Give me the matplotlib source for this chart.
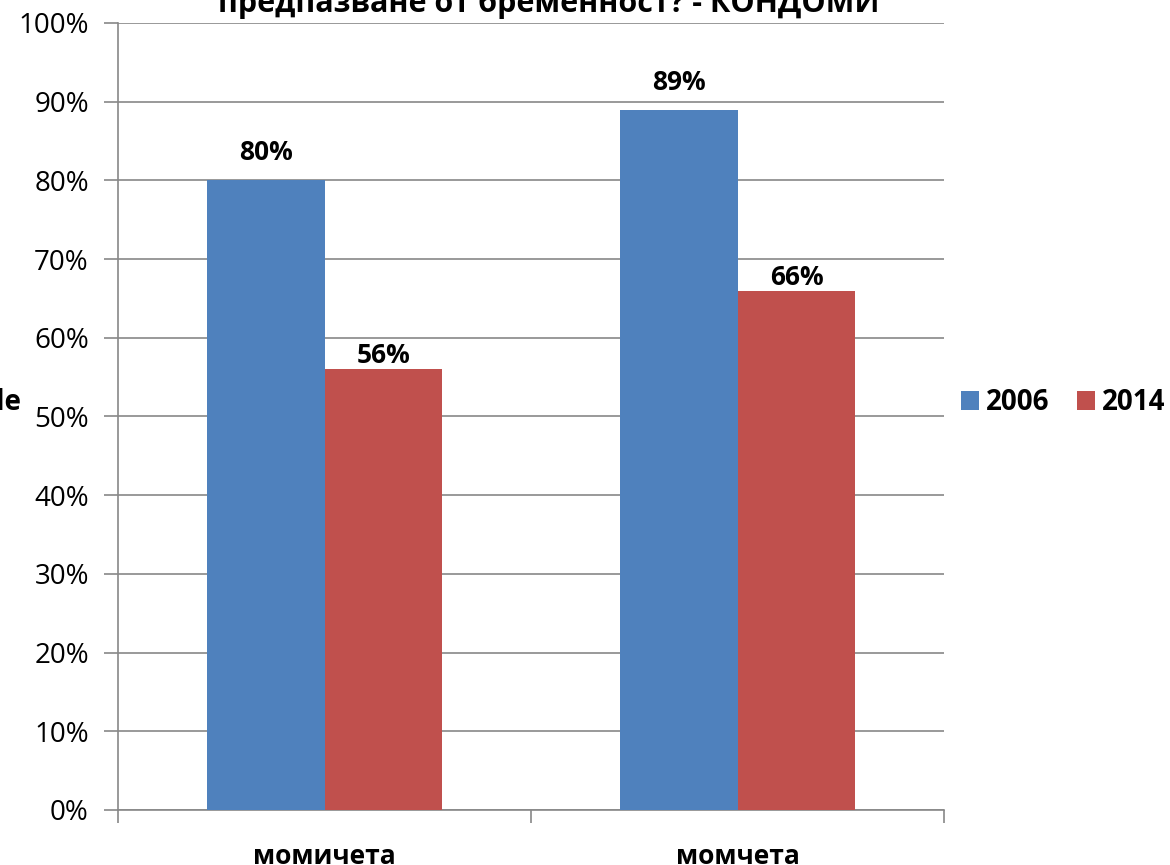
import matplotlib
matplotlib.use("Agg")
import matplotlib.pyplot as plt
from matplotlib.ticker import FuncFormatter, MultipleLocator
import numpy as np

plt.rcParams['font.family'] = ['Open Sans', 'DejaVu Sans']

# data
categories = ["момичета", "момчета"]
years = ["2006", "2014"]
values_2006 = [80, 89]
values_2014 = [56, 66]
colors = ["#4F81BD", "#C0504D"]
title = "предпазване от бременност? - КОНДОМИ"
y_title = "Axis Title"

fig = plt.figure(figsize=(11.7, 8.65), dpi=100)
ax = fig.add_axes([118 / 1170, 1 - 810 / 865, (944 - 118) / 1170, (810 - 23) / 865])

x = np.arange(len(categories))
width = 0.2857
bars_a = ax.bar(x - width / 2, values_2006, width, color=colors[0], label=years[0], zorder=3)
bars_b = ax.bar(x + width / 2, values_2014, width, color=colors[1], label=years[1], zorder=3)

# value labels
for rect, v in zip(bars_a, values_2006):
    ax.annotate(f"{v}%", (rect.get_x() + rect.get_width() / 2, v), xytext=(0, 14),
                textcoords="offset pixels", ha="center", va="bottom",
                fontsize=19, fontweight="bold")
for rect, v in zip(bars_b, values_2014):
    ax.annotate(f"{v}%", (rect.get_x() + rect.get_width() / 2, v), xytext=(0, 0),
                textcoords="offset pixels", ha="center", va="bottom",
                fontsize=19, fontweight="bold")

ax.set_xlim(-0.5, len(categories) - 0.5)
ax.set_ylim(0, 100)
ax.yaxis.set_major_locator(MultipleLocator(10))
ax.yaxis.set_major_formatter(FuncFormatter(lambda v, _: f"{v:.0f}%"))
ax.grid(axis="y", color="#888888", linewidth=1.2, zorder=0)

grey = "#888888"
for side in ["top", "right"]:
    ax.spines[side].set_visible(False)
for side in ["left", "bottom"]:
    ax.spines[side].set_color(grey)
    ax.spines[side].set_linewidth(1.2)

# category ticks on boundaries, labels in the middle
ax.set_xticks(np.arange(-0.5, len(categories), 1.0))
ax.set_xticklabels([])
ax.set_xticks(x, minor=True)
ax.set_xticklabels(categories, minor=True, fontsize=19, fontweight="bold")
ax.tick_params(axis="x", which="major", length=9, color=grey, width=1.2, direction="out")
ax.tick_params(axis="x", which="minor", length=0, pad=24)
ax.tick_params(axis="y", length=10, color=grey, width=1.2, labelsize=20, pad=11)

fig.text(549 / 1170, 1 - 12 / 865, title, ha="center", va="baseline",
         fontsize=22, fontweight="bold")
fig.text(21 / 1170, 1 - 410 / 865, y_title, ha="right", va="baseline",
         fontsize=20, fontweight="bold")

fig.legend(handles=[bars_a, bars_b], labels=years, loc="center left",
           bbox_to_anchor=(961 / 1170, 1 - 403 / 865), frameon=False, ncol=2,
           prop={"size": 20, "weight": "bold"}, handlelength=0.65, handleheight=0.65,
           handletextpad=0.25, columnspacing=1.0, borderpad=0, borderaxespad=0)

fig.savefig("out.png", dpi=100)
